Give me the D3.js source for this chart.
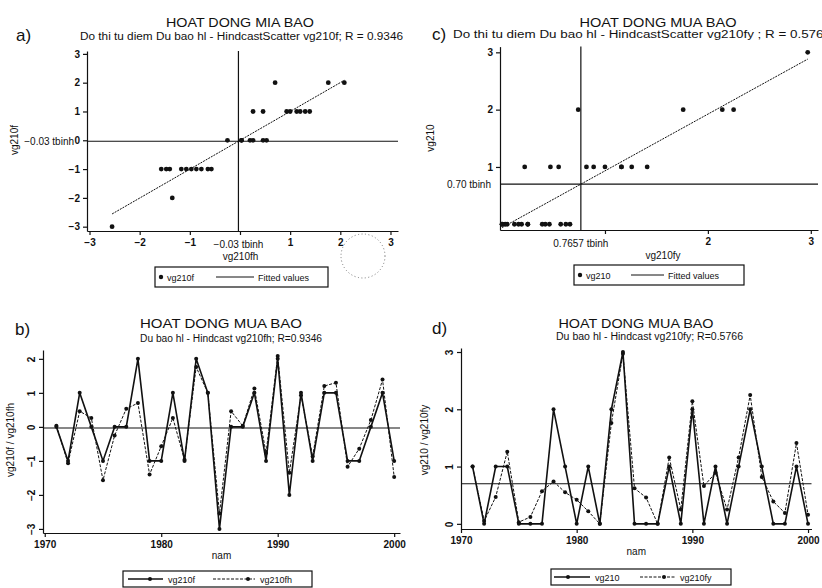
<!DOCTYPE html>
<html>
<head>
<meta charset="utf-8">
<script src="https://cdn.jsdelivr.net/npm/d3@7"></script>
<style>
  body { margin: 0; background: #fff; }
  svg { display: block; }
  text { font-family: "Liberation Sans", Arial, sans-serif; fill: #111; }
</style>
</head>
<body>
<svg id="chart" width="822" height="588"></svg>
<script>
// yearly data 1971-2000
const years = [1971, 1972, 1973, 1974, 1975, 1976, 1977, 1978, 1979, 1980,
  1981, 1982, 1983, 1984, 1985, 1986, 1987, 1988, 1989, 1990,
  1991, 1992, 1993, 1994, 1995, 1996, 1997, 1998, 1999, 2000]
const vg210f = [0, -1, 1, 0, -1, 0, 0, 2, -1, -1, 1, -1, 2, 1, -3, 0, 0, 1, -1, 2,
  -2, 1, -1, 1, 1, -1, -1, 0, 1, -1]
const vg210fh = [0.03, -1.07, 0.46, 0.26, -1.57, -0.25, 0.53, 0.70, -1.40, -0.57,
  0.26, -0.97, 1.76, 1.00, -2.55, 0.46, 0.03, 1.13, -0.77, 2.08,
  -1.35, 0.93, -0.87, 1.20, 1.30, -1.17, -0.64, 0.20, 1.39, -1.47]
const vg210 = [1, 0, 1, 1, 0, 0, 0, 2, 1, 0, 1, 0, 2, 3, 0, 0, 0, 1, 0, 2,
  0, 1, 0, 1, 2, 1, 0, 0, 1, 0]
const vg210fy = [1.00, 0.05, 0.47, 1.26, 0.03, 0.12, 0.57, 0.74, 0.55, 0.42,
  0.22, 0.00, 1.76, 2.97, 0.62, 0.46, 0.00, 1.16, 0.25, 2.14,
  0.66, 0.89, 0.25, 1.16, 2.25, 0.82, 0.39, 0.19, 1.41, 0.16]

const ticksA = [-3, -2, -1, 0, 1, 2, 3]
const ticksCx = [1, 2, 3]
const ticksCy = [1, 2, 3]
const ticksB = [-3, -2, -1, 0, 1, 2]
const ticksD = [0, 1, 2, 3]
const yearTicks = [1970, 1980, 1990, 2000]

const svg = d3.select('#chart')
const ink = '#111'

function fit(xs, ys) {
  var mx = d3.mean(xs), my = d3.mean(ys)
  var sxy = d3.sum(xs, (x, i) => (x - mx) * (ys[i] - my))
  var sxx = d3.sum(xs, x => (x - mx) * (x - mx))
  var b = sxy / sxx
  return x => my + b * (x - mx)
}

function styleAxis(g) {
  g.attr('font-family', '"Liberation Sans", Arial, sans-serif').attr('font-size', 10)
  g.selectAll('path,line').attr('stroke', ink).attr('stroke-width', 1.2)
  g.selectAll('text').attr('fill', ink).attr('font-weight', 'bold')
}

function text(x, y, s, size, anchor, extra) {
  var t = svg.append('text').attr('x', x).attr('y', y).attr('font-size', size)
    .attr('text-anchor', anchor || 'middle').text(s)
  if (extra) extra(t)
  return t
}

function heading(o) {
  text(o.lx, o.ly, o.label, 17, 'start')
  text(o.tx, o.ty, o.title, 13, 'middle', t => t.attr('textLength', o.tw).attr('lengthAdjust', 'spacingAndGlyphs'))
  text(o.sx, o.sy, o.sub, 10, 'start', t => t.attr('textLength', o.sw).attr('lengthAdjust', 'spacingAndGlyphs'))
}

function legendBox(x, y, w, h) {
  svg.append('rect').attr('x', x).attr('y', y).attr('width', w).attr('height', h)
    .attr('fill', 'none').attr('stroke', ink).attr('stroke-width', 1.2)
}

// ---------- scatter panels (a, c) ----------
function scatter(o) {
  var x = d3.scaleLinear().domain(o.xDomain).range(o.xRange)
  var y = d3.scaleLinear().domain(o.yDomain).range(o.yRange)
  var g = svg.append('g')
  var fmt = d3.format('d')

  // tick labels hidden under the mean label in the original are left blank
  g.append('g').attr('transform', `translate(0,${o.yRange[0]})`)
    .call(d3.axisBottom(x).tickValues(o.xTicks).tickFormat(d => d === o.xHide ? '' : fmt(d))
      .tickSize(4).tickSizeOuter(0).tickPadding(4))
    .call(styleAxis)
  g.append('g').attr('transform', `translate(${o.xRange[0]},0)`)
    .call(d3.axisLeft(y).tickValues(o.yTicks).tickFormat(fmt).tickSize(4).tickSizeOuter(0).tickPadding(3))
    .call(styleAxis)

  var mx = d3.mean(o.xs), my = d3.mean(o.ys)
  g.append('line').attr('x1', x(mx)).attr('x2', x(mx)).attr('y1', o.yRange[1]).attr('y2', o.yRange[0])
    .attr('stroke', ink).attr('stroke-width', 1.2)
  g.append('line').attr('x1', o.xRange[0]).attr('x2', o.xRange[1]).attr('y1', y(my)).attr('y2', y(my))
    .attr('stroke', ink).attr('stroke-width', 1.2)
  text(x(mx), o.yRange[0] + 17, d3.format(o.xFmt)(mx) + ' tbinh', 10)
  text(o.xRange[0] - o.myOff, y(my) + 3.5, d3.format(o.yFmt)(my) + ' tbinh', 10, 'end')

  var f = fit(o.xs, o.ys)
  var ext = d3.extent(o.xs)
  g.append('path').datum(ext)
    .attr('d', d3.line().x(d => x(d)).y(d => y(f(d))))
    .attr('stroke', ink).attr('stroke-width', 1).attr('stroke-dasharray', '2,1').attr('fill', 'none')

  g.selectAll('circle.pt').data(o.xs).join('circle').attr('class', 'pt')
    .attr('cx', d => x(d)).attr('cy', (d, i) => y(o.ys[i])).attr('r', 2.4).attr('fill', ink)

  text((o.xRange[0] + o.xRange[1]) / 2 + o.xtOff, o.yRange[0] + 29, o.xTitle, 10)
  text(o.ytx, o.yty, o.yTitle, 10, 'middle', t => t.attr('transform', `rotate(-90,${o.ytx},${o.yty})`))

  var L = o.legend
  legendBox(L.x, L.y, L.w, 20)
  svg.append('circle').attr('cx', L.x + 6).attr('cy', L.y + 10).attr('r', 2.2).attr('fill', ink)
  text(L.x + 12, L.y + 14, o.yTitle, 9, 'start')
  svg.append('line').attr('x1', L.l1).attr('x2', L.l2).attr('y1', L.y + 10).attr('y2', L.y + 10)
    .attr('stroke', ink).attr('stroke-width', 1)
  text(L.l2 + 4, L.y + 14, 'Fitted values', 9, 'start')
}

// ---------- time series panels (b, d) ----------
function series(o) {
  var x = d3.scaleLinear().domain(o.xDomain).range(o.xRange)
  var y = d3.scaleLinear().domain(o.yDomain).range(o.yRange)
  var g = svg.append('g')

  g.append('g').attr('transform', `translate(0,${o.yRange[0]})`)
    .call(d3.axisBottom(x).tickValues(yearTicks).tickFormat(d3.format('d')).tickSize(4).tickSizeOuter(0).tickPadding(4))
    .call(styleAxis)
  var ya = g.append('g').attr('transform', `translate(${o.xRange[0]},0)`)
    .call(d3.axisLeft(y).tickValues(o.yTicks).tickFormat(d3.format('d')).tickSize(4).tickSizeOuter(0))
    .call(styleAxis)
  ya.selectAll('text').attr('transform', 'rotate(-90)').attr('x', 0).attr('y', -8)
    .attr('dy', 0).attr('text-anchor', 'middle')

  var m = d3.mean(o.a)
  g.append('line').attr('x1', o.xRange[0]).attr('x2', o.xRange[1]).attr('y1', y(m)).attr('y2', y(m))
    .attr('stroke', ink).attr('stroke-width', 1.2)

  var line = d3.line().x((d, i) => x(years[i])).y(d => y(d))
  g.append('path').datum(o.b).attr('d', line).attr('fill', 'none')
    .attr('stroke', ink).attr('stroke-width', 1).attr('stroke-dasharray', '3,1.5')
  g.append('path').datum(o.a).attr('d', line).attr('fill', 'none')
    .attr('stroke', ink).attr('stroke-width', 1.6)
  ;[o.b, o.a].forEach(s => {
    g.append('g').selectAll('circle').data(s).join('circle')
      .attr('cx', (d, i) => x(years[i])).attr('cy', d => y(d)).attr('r', 2).attr('fill', ink)
  })

  text((o.xRange[0] + o.xRange[1]) / 2, o.yRange[0] + 26, 'nam', 10)
  text(o.ytx, o.yty, o.yTitle, 10, 'middle', t => t.attr('transform', `rotate(-90,${o.ytx},${o.yty})`))

  var L = o.legend
  legendBox(L.x, L.y, L.w, 16)
  L.items.forEach((it, k) => {
    svg.append('line').attr('x1', it.l1).attr('x2', it.l2).attr('y1', L.y + 8).attr('y2', L.y + 8)
      .attr('stroke', ink).attr('stroke-width', k ? 1 : 1.4).attr('stroke-dasharray', k ? '3,1.5' : null)
    svg.append('circle').attr('cx', it.m).attr('cy', L.y + 8).attr('r', 2).attr('fill', ink)
    text(it.l2 + 5, L.y + 11.5, it.name, 9, 'start')
  })
}

// a)
heading({ label: 'a)', lx: 16, ly: 41, title: 'HOAT DONG MIA BAO', tx: 240, ty: 27, tw: 148,
  sub: 'Do thi tu diem  Du bao hl - HindcastScatter vg210f; R = 0.9346', sx: 80, sy: 40, sw: 323 })
scatter({
  xs: vg210fh, ys: vg210f, xDomain: [-3.05, 3.15], xRange: [87, 398], yDomain: [-3.15, 3.1], yRange: [231, 51],
  xTicks: ticksA, yTicks: ticksA, xHide: 0, xFmt: '.2f', yFmt: '.2f', myOff: 13,
  xTitle: 'vg210fh', xtOff: -2, yTitle: 'vg210f', ytx: 18, yty: 140,
  legend: { x: 155, y: 267, w: 173, l1: 216, l2: 254 }
})
// scan artefact: dotted ring near panel a
svg.append('circle').attr('cx', 363).attr('cy', 256).attr('r', 22).attr('fill', 'none')
  .attr('stroke', '#777').attr('stroke-width', 1).attr('stroke-dasharray', '1,2.5')

// c)
heading({ label: 'c)', lx: 432, ly: 40, title: 'HOAT DONG MUA BAO', tx: 658, ty: 27, tw: 157,
  sub: 'Do thi tu diem  Du bao hl - HindcastScatter vg210fy ; R = 0.5766', sx: 453, sy: 38, sw: 378 })
scatter({
  xs: vg210fy, ys: vg210, xDomain: [-0.02, 3.07], xRange: [500, 818], yDomain: [-0.1, 3.1], yRange: [230, 46.6],
  xTicks: ticksCx, yTicks: ticksCy, xHide: 1, xFmt: '.4f', yFmt: '.2f', myOff: 9,
  xTitle: 'vg210fy', xtOff: 4, yTitle: 'vg210', ytx: 434, yty: 138,
  legend: { x: 574, y: 265, w: 170, l1: 631, l2: 664 }
})

// b)
heading({ label: 'b)', lx: 15, ly: 335, title: 'HOAT DONG MUA BAO', tx: 221, ty: 328, tw: 162,
  sub: 'Du bao hl - Hindcast vg210fh; R=0.9346', sx: 140, sy: 342, sw: 182 })
series({
  a: vg210f, b: vg210fh, xDomain: [1969.85, 2000.5], xRange: [43, 400], yDomain: [-3.12, 2.26], yRange: [533, 350],
  yTicks: ticksB, yTitle: 'vg210f / vg210fh', ytx: 14, yty: 440,
  legend: { x: 123, y: 571, w: 189, items: [
    { l1: 128, l2: 163, m: 150, name: 'vg210f' },
    { l1: 213, l2: 255, m: 248, name: 'vg210fh' }] }
})

// d)
heading({ label: 'd)', lx: 432, ly: 334, title: 'HOAT DONG MUA BAO', tx: 636, ty: 328, tw: 155,
  sub: 'Du bao hl - Hindcast vg210fy; R=0.5766', sx: 556, sy: 340, sw: 187 })
series({
  a: vg210, b: vg210fy, xDomain: [1970, 2000.3], xRange: [461, 811.5], yDomain: [-0.09, 3.07], yRange: [529, 348],
  yTicks: ticksD, yTitle: 'vg210 / vg210fy', ytx: 428, yty: 440,
  legend: { x: 551, y: 569, w: 180, items: [
    { l1: 554, l2: 590, m: 568, name: 'vg210' },
    { l1: 640, l2: 675, m: 664, name: 'vg210fy' }] }
})
</script>
</body>
</html>
